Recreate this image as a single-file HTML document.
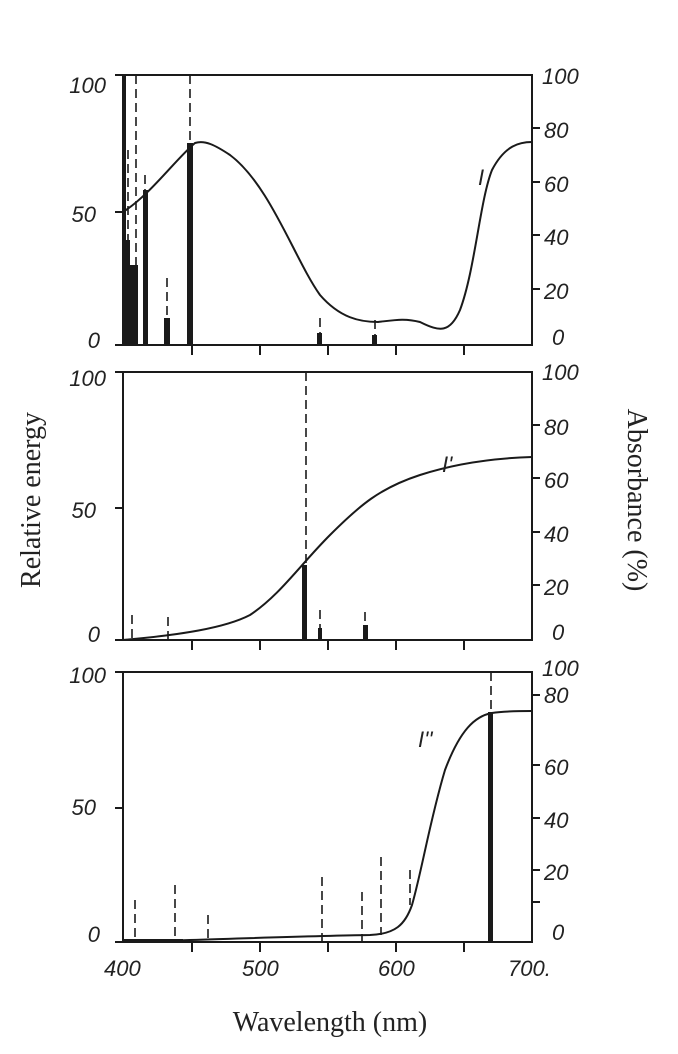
<!DOCTYPE html>
<html><head><style>
body{margin:0;background:#fff;}
svg{display:block}
.t{font-family:"Liberation Sans",sans-serif;font-style:italic;font-size:22px;fill:#222}
.s{font-family:"Liberation Serif",serif;font-size:28px;fill:#222}
</style></head><body>
<svg width="678" height="1054" viewBox="0 0 678 1054" xmlns="http://www.w3.org/2000/svg">
<g fill="none" stroke="#1a1a1a" stroke-width="2">
<rect x="123" y="75" width="409" height="270"/>
<rect x="123" y="372" width="409" height="268"/>
<rect x="123" y="672" width="409" height="270"/>
<path d="M115 75h8M115 212h8M115 345h8 M115 372h8M115 508h8M115 640h8 M115 672h8M115 808h8M115 942h8"/>
<path d="M532 128h8M532 182h8M532 235h8M532 289h8 M532 425h8M532 478h8M532 532h8M532 585h8 M532 695h8M532 765h8M532 818h8M532 870h8M532 902h8"/>
<path d="M192 345v10M260 345v10M328 345v10M396 345v10M464 345v10 M192 640v10M260 640v10M328 640v10M396 640v10M464 640v10 M192 942v10M260 942v10M328 942v10M396 942v10M464 942v10"/>
<path d="M123 212 C150 195 175 160 195 143 C205 140 215 145 230 155 C270 185 295 260 320 295 C340 318 360 322 378 322 C395 320 405 318 420 322 C440 332 450 333 460 310 C475 270 480 200 492 170 C505 145 520 142 532 142"/>
<path d="M123 640 C180 635 225 628 250 615 C280 595 300 565 330 535 C360 505 380 488 420 475 C460 462 500 458 532 457"/>
<path d="M123 942 C200 940 300 936 370 935 C395 934 405 925 412 905 C422 870 430 820 445 770 C460 730 475 716 492 713 C505 711 520 711 532 711"/>
</g>
<g fill="#1a1a1a">
<rect x="123" y="75" width="3" height="270"/>
<rect x="124" y="240" width="6" height="105"/>
<rect x="130" y="265" width="8" height="80"/>
<rect x="143" y="190" width="5" height="155"/>
<rect x="164" y="318" width="6" height="27"/>
<rect x="187" y="143" width="6" height="202"/>
<rect x="317" y="333" width="5" height="12"/>
<rect x="372" y="335" width="5" height="10"/>
<rect x="302" y="565" width="5" height="75"/>
<rect x="318" y="628" width="4" height="12"/>
<rect x="363" y="625" width="5" height="15"/>
<rect x="488" y="712" width="5" height="230"/>
<rect x="123" y="939" width="60" height="3"/>
</g>
<g fill="none" stroke="#1a1a1a" stroke-width="1.6" stroke-dasharray="9,5">
<path d="M136 75V340M190 75V142M128 150V240M145 175V190M167 278V318M320 318V333M375 320V335"/>
<path d="M306 372V565M132 615V640M168 617V640M320 610V628M365 612V625"/>
<path d="M491 672V712M135 900V942M175 885V942M208 915V942M322 877V942M362 892V942M381 857V935M410 870V905"/>
</g>
<g class="t" text-anchor="end">
<text x="106" y="93">100</text><text x="96" y="222">50</text><text x="100" y="348">0</text>
<text x="106" y="386">100</text><text x="96" y="518">50</text><text x="100" y="642">0</text>
<text x="106" y="683">100</text><text x="96" y="815">50</text><text x="100" y="942">0</text>
</g>
<g class="t">
<text x="542" y="84">100</text><text x="544" y="138">80</text><text x="544" y="192">60</text><text x="544" y="245">40</text><text x="544" y="299">20</text><text x="552" y="345">0</text>
<text x="542" y="380">100</text><text x="544" y="435">80</text><text x="544" y="488">60</text><text x="544" y="542">40</text><text x="544" y="595">20</text><text x="552" y="640">0</text>
<text x="542" y="676">100</text><text x="544" y="703">80</text><text x="544" y="775">60</text><text x="544" y="828">40</text><text x="544" y="880">20</text><text x="552" y="940">0</text>
<text x="104" y="976">400</text><text x="242" y="976">500</text><text x="378" y="976">600</text><text x="508" y="976">700.</text>
<text x="478" y="185">I</text><text x="442" y="472">I'</text><text x="418" y="747">I''</text>
</g>
<text class="s" x="330" y="1031" text-anchor="middle">Wavelength (nm)</text>
<text class="s" transform="translate(40,500) rotate(-90)" text-anchor="middle">Relative energy</text>
<text class="s" transform="translate(628,500) rotate(90)" text-anchor="middle">Absorbance (%)</text>
</svg>
</body></html>
